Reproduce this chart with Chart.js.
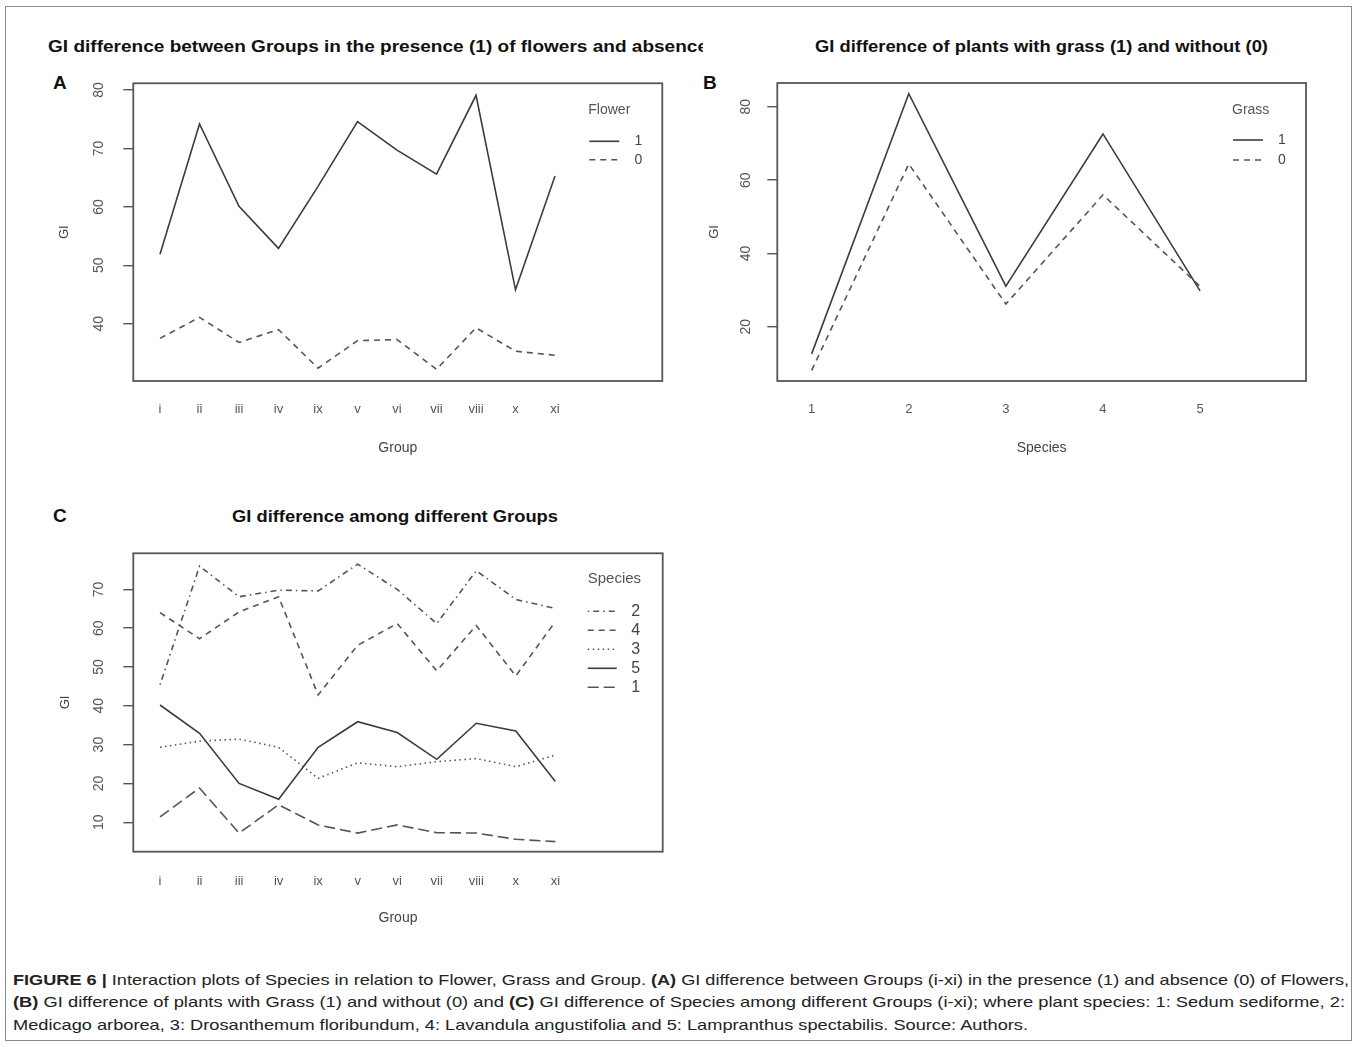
<!DOCTYPE html>
<html>
<head>
<meta charset="utf-8">
<script src="https://cdn.jsdelivr.net/npm/chart.js@4/dist/chart.umd.min.js"></script>
<style>
  body { margin: 0; background: #fff; font-family: "Liberation Sans", Arial, sans-serif; }
  #fig { position: relative; width: 1358px; height: 1047px; overflow: hidden; }
  #frame { position: absolute; left: 5px; top: 6px; width: 1345px; height: 1033px; border: 1px solid #8a8a8a; }
  canvas { position: absolute; }
  .t { position: absolute; white-space: nowrap; transform-origin: 0 50%; line-height: 1; }
  .ttl { font-weight: bold; font-size: 17px; color: #111; }
  .lt { font-weight: bold; font-size: 19px; color: #111; }
  .cap { font-size: 15px; color: #222; }
  #clipA { position: absolute; left: 0; top: 30px; width: 703px; height: 34px; overflow: hidden; }
</style>
</head>
<body>
<div id="fig">
  <div id="frame"></div>
  <div id="clipA"><span class="t ttl" style="left:48px; top:8px" data-w="660">GI difference between Groups in the presence (1) of flowers and absence (0) of flowers</span></div>
  <span class="t ttl" style="left:815px; top:38px" data-w="453">GI difference of plants with grass (1) and without (0)</span>
  <span class="t ttl" style="left:232px; top:508px" data-w="326">GI difference among different Groups</span>
  <span class="t lt" style="left:53px; top:73px">A</span>
  <span class="t lt" style="left:703px; top:73px">B</span>
  <span class="t lt" style="left:53px; top:506px">C</span>
  <canvas id="chartA" width="660" height="400" style="left:40px; top:70px"></canvas>
  <canvas id="chartB" width="650" height="400" style="left:690px; top:70px"></canvas>
  <canvas id="chartC" width="660" height="400" style="left:40px; top:540px"></canvas>
  <span class="t cap" style="left:13px; top:972px" data-w="1336"><b>FIGURE 6 |</b> Interaction plots of Species in relation to Flower, Grass and Group. <b>(A)</b> GI difference between Groups (i-xi) in the presence (1) and absence (0) of Flowers,</span>
  <span class="t cap" style="left:13px; top:994px" data-w="1332"><b>(B)</b> GI difference of plants with Grass (1) and without (0) and <b>(C)</b> GI difference of Species among different Groups (i-xi); where plant species: 1: Sedum sediforme, 2:</span>
  <span class="t cap" style="left:13px; top:1017px" data-w="1015">Medicago arborea, 3: Drosanthemum floribundum, 4: Lavandula angustifolia and 5: Lampranthus spectabilis. Source: Authors.</span>
</div>
<script>
// values
const groups = ['i', 'ii', 'iii', 'iv', 'ix', 'v', 'vi', 'vii', 'viii', 'x', 'xi'];
const flower1 = [51.9, 74.2, 60.1, 52.9, 63.5, 74.6, 69.7, 65.6, 79.1, 45.8, 65.3];
const flower0 = [37.5, 41.1, 36.8, 39.0, 32.4, 37.1, 37.3, 32.2, 39.3, 35.3, 34.6];

const speciesCats = ['1', '2', '3', '4', '5'];
const grass1 = [12.6, 83.6, 31.1, 72.6, 29.8];
const grass0 = [8.1, 64.4, 26.2, 56.0, 31.0];

const sp2 = [45.4, 76.0, 68.1, 69.8, 69.6, 76.5, 70.0, 61.2, 74.8, 67.4, 65.1];
const sp4 = [64.0, 57.3, 64.2, 68.1, 42.8, 55.6, 61.2, 49.0, 60.7, 47.7, 61.7];
const sp3 = [29.3, 30.9, 31.4, 29.3, 21.3, 25.3, 24.3, 25.6, 26.4, 24.3, 27.3];
const sp5 = [40.2, 32.9, 20.0, 15.9, 29.3, 35.9, 33.1, 26.2, 35.5, 33.5, 20.5];
const sp1 = [11.4, 18.8, 7.2, 14.5, 9.3, 7.2, 9.3, 7.3, 7.2, 5.6, 5.0];

const yTicksA = [40, 50, 60, 70, 80];
const yTicksB = [20, 40, 60, 80];
const yTicksC = [10, 20, 30, 40, 50, 60, 70];

// R line types
const LTY = { solid: [], dashed: [6, 5], dotted: [1.5, 3.5], dotdash: [1.5, 4, 6, 4], longdash: [11, 5] };

Chart.defaults.font.family = '"Liberation Sans", Arial, sans-serif';

document.querySelectorAll('[data-w]').forEach((el) => {
  const w = el.getBoundingClientRect().width;
  el.style.transform = `scaleX(${el.dataset.w / w})`;
});
// A's title: only fit the visible part, the tail is clipped
(function () {
  const el = document.querySelector('#clipA .t');
  el.style.transform = 'none';
  const r = document.createRange();
  r.setStart(el.firstChild, 0);
  r.setEnd(el.firstChild, el.textContent.indexOf(' (0) of flowers'));
  const part = r.getBoundingClientRect().width;
  el.style.transform = `scaleX(${el.dataset.w / part})`;
})();

const boxPlugin = {
  id: 'rbox',
  afterDraw(chart) {
    const { ctx, chartArea: a } = chart;
    ctx.save();
    ctx.strokeStyle = '#555';
    ctx.lineWidth = 1.8;
    ctx.strokeRect(a.left, a.top, a.right - a.left, a.bottom - a.top);
    ctx.restore();
  },
};

function legendPlugin(lg) {
  return {
    id: 'rlegend',
    afterDraw(chart) {
      const { ctx, chartArea: a } = chart;
      ctx.save();
      ctx.fillStyle = '#555';
      ctx.textBaseline = 'middle';
      ctx.font = `${lg.titleSize}px "Liberation Sans", Arial`;
      ctx.textAlign = 'left';
      ctx.fillText(lg.title, a.right + lg.titleDx, a.top + lg.titleDy);
      ctx.font = `${lg.labelSize}px "Liberation Sans", Arial`;
      ctx.textAlign = 'center';
      chart.data.datasets.forEach((ds, i) => {
        const y = a.top + lg.row0 + i * lg.rowStep;
        ctx.beginPath();
        ctx.setLineDash(ds.borderDash);
        ctx.strokeStyle = ds.borderColor;
        ctx.lineWidth = ds.borderWidth;
        ctx.moveTo(a.right + lg.lineDx0, y);
        ctx.lineTo(a.right + lg.lineDx1, y);
        ctx.stroke();
        ctx.setLineDash([]);
        ctx.fillStyle = '#444';
        ctx.fillText(ds.label, a.right + lg.labelDx, y);
      });
      ctx.restore();
    },
  };
}

// keep the plot box where the layout padding puts it
const noEdgePad = (s) => { s.paddingTop = 0; s.paddingBottom = 0; s.paddingLeft = 0; s.paddingRight = 0; };

function panel(id, o) {
  return new Chart(document.getElementById(id), {
    type: 'line',
    data: {
      datasets: o.series.map((s) => ({
        label: s.label,
        data: s.values.map((v, i) => ({ x: i + 1, y: v })),
        borderColor: s.color,
        borderWidth: 1.6,
        borderDash: s.dash,
        pointRadius: 0,
        tension: 0,
        fill: false,
      })),
    },
    options: {
      responsive: false, animation: false, devicePixelRatio: 1,
      layout: { padding: { top: o.padTop, right: o.padRight, left: 0, bottom: 0 } },
      plugins: { legend: { display: false }, tooltip: { enabled: false } },
      scales: {
        x: {
          type: 'linear', min: o.xMin, max: o.xMax,
          afterBuildTicks: (s) => { s.ticks = o.cats.map((_, i) => ({ value: i + 1 })); },
          afterFit: (s) => { s.height = o.xH; noEdgePad(s); },
          grid: { display: false, drawTicks: false },
          border: { display: false },
          ticks: { autoSkip: false, maxRotation: 0, padding: o.xTickPad, color: '#555', font: { size: 13 },
            callback: (v) => o.cats[v - 1] },
          title: { display: true, text: o.xTitle, color: '#444', font: { size: 14 }, padding: { top: 0, bottom: 13.6 } },
        },
        y: {
          min: o.yMin, max: o.yMax,
          afterBuildTicks: (s) => { s.ticks = o.yTicks.map((v) => ({ value: v })); },
          afterFit: (s) => { s.width = o.yW; noEdgePad(s); },
          grid: { drawOnChartArea: false, tickLength: 10, tickColor: '#555', lineWidth: 1.4 },
          border: { display: false },
          ticks: { minRotation: 90, maxRotation: 90, crossAlign: 'center', padding: o.yTickPad, color: '#555', font: { size: 14 } },
          title: { display: true, text: 'GI', color: '#444', font: { size: 13 }, padding: { top: o.yTitlePad, bottom: 0 } },
        },
      },
    },
    plugins: [boxPlugin, legendPlugin(o.legend)],
  });
}

const legendSmall = { titleSize: 14, labelSize: 14, titleDx: -74, titleDy: 27, lineDx0: -73, lineDx1: -43, labelDx: -24, row0: 58, rowStep: 18.5 };

panel('chartA', {
  cats: groups, xMin: 0.324, xMax: 13.716, yMin: 30.2, yMax: 81.15, yTicks: yTicksA,
  padTop: 13.3, padRight: 37.7, yW: 93.3, xH: 89, xTickPad: 21, yTickPad: 16, yTitlePad: 17,
  xTitle: 'Group',
  legend: { ...legendSmall, title: 'Flower' },
  series: [
    { label: '1', values: flower1, color: '#3c3c3c', dash: LTY.solid },
    { label: '0', values: flower0, color: '#555', dash: LTY.dashed },
  ],
});

panel('chartB', {
  cats: speciesCats, xMin: 0.646, xMax: 6.091, yMin: 5.2, yMax: 86.5, yTicks: yTicksB,
  padTop: 13, padRight: 34, yW: 87.3, xH: 89, xTickPad: 21, yTickPad: 13.3, yTitlePad: 16.5,
  xTitle: 'Species',
  legend: { ...legendSmall, title: 'Grass', row0: 57, rowStep: 20 },
  series: [
    { label: '1', values: grass1, color: '#3c3c3c', dash: LTY.solid },
    { label: '0', values: grass0, color: '#555', dash: LTY.dashed },
  ],
});

panel('chartC', {
  cats: groups, xMin: 0.324, xMax: 13.716, yMin: 2.4, yMax: 79.3, yTicks: yTicksC,
  padTop: 13.3, padRight: 37.3, yW: 93.3, xH: 88.3, xTickPad: 22, yTickPad: 16, yTitlePad: 18,
  xTitle: 'Group',
  legend: { titleSize: 15, labelSize: 16, title: 'Species', titleDx: -75, titleDy: 26, lineDx0: -75, lineDx1: -46, labelDx: -27, row0: 58, rowStep: 19 },
  series: [
    { label: '2', values: sp2, color: '#555', dash: LTY.dotdash },
    { label: '4', values: sp4, color: '#555', dash: LTY.dashed },
    { label: '3', values: sp3, color: '#555', dash: LTY.dotted },
    { label: '5', values: sp5, color: '#3c3c3c', dash: LTY.solid },
    { label: '1', values: sp1, color: '#555', dash: LTY.longdash },
  ],
});
</script>
</body>
</html>
